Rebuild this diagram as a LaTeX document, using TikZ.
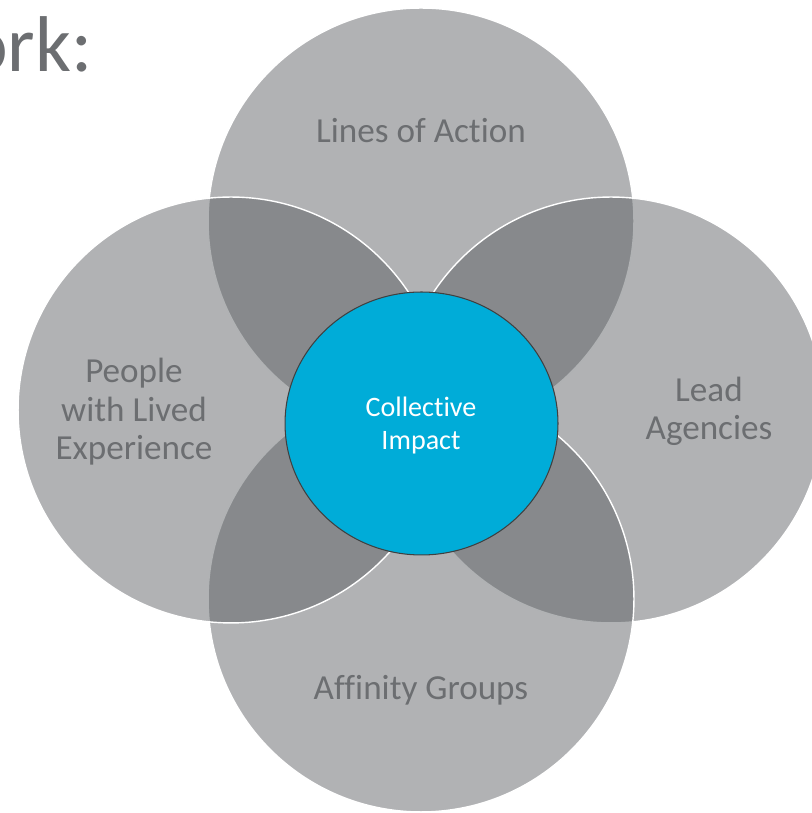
\documentclass[tikz,border=0pt]{standalone}
\usepackage{fontspec}
\setmainfont{Carlito}[Ligatures=NoCommon]
\usetikzlibrary{shapes.geometric}
\definecolor{petalgray}{RGB}{90,93,97}
\definecolor{labelgray}{RGB}{108,110,113}
\definecolor{impactblue}{RGB}{0,172,216}
\definecolor{rimgray}{RGB}{64,64,64}

\tikzstyle{petalcircle}=[circle, minimum size=8.52cm, inner sep=0pt, fill=petalgray, fill opacity=0.474, draw=white, line width=0.8pt]
\tikzstyle{caption}=[text=labelgray, font=\fontsize{20}{22}\selectfont, align=center, inner sep=0pt, anchor=base]

\begin{document}
\begin{tikzpicture}[x=0.02cm, y=0.02cm]
\useasboundingbox (0,0) rectangle (811,813);
% petals: later ones put their white rim on top
\node [petalcircle] (action) at (421,592) {};
\node [petalcircle] (agencies) at (611,403) {};
\node [petalcircle] (affinity) at (421,214) {};
\node [petalcircle] (lived) at (231,403) {};
% centre
\node [ellipse, minimum width=5.46cm, minimum height=5.26cm, fill=impactblue, draw=rimgray, line width=0.6pt] (impact) at (421.5,389.5) {};
\node [caption, text=white, font=\fontsize{16}{19}\selectfont] (impacttext) at (421,363) {Collective\\Impact};
% captions, anchored on the last line
\node [caption] (actiontext) at (421,670) {Lines of Action};
\node [caption] (livedtext) at (134,353) {People\\with Lived\\Experience};
\node [caption] (agenciestext) at (709,373) {Lead\\Agencies};
\node [caption] (affinitytext) at (421,113) {Affinity Groups};
\node [text=labelgray, font=\fontsize{45}{50}\selectfont, anchor=base east, inner sep=0pt] (heading) at (93,741) {ork:};
\end{tikzpicture}
\end{document}
